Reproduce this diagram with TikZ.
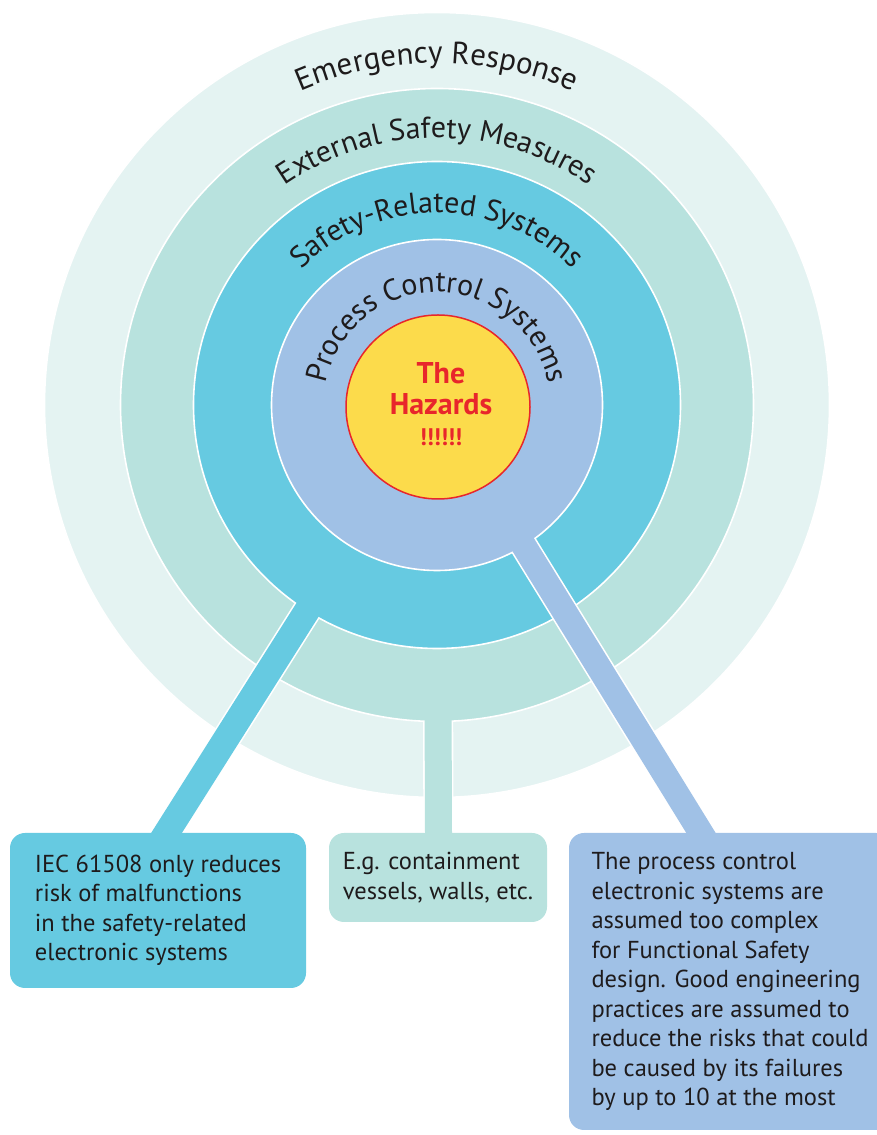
\documentclass[tikz,border=0pt]{standalone}
\usepackage{fontspec}
\setmainfont{PT Sans}
\usetikzlibrary{calc,decorations.text}
\definecolor{ringA}{HTML}{E4F3F2}
\definecolor{ringB}{HTML}{B8E2DE}
\definecolor{ringC}{HTML}{66CAE1}
\definecolor{ringD}{HTML}{A0C1E6}
\definecolor{hazY}{HTML}{FCDB4B}
\definecolor{hazR}{HTML}{E8262B}
\definecolor{textC}{HTML}{1E1B1C}
\newcommand{\ringfont}{\fontsize{30}{32}\selectfont\color{textC}}
\newcommand{\ringfontbig}{\fontsize{31}{33}\selectfont\color{textC}}
\newcommand{\boxfont}{\fontsize{24.5}{29.5}\selectfont}
\pgfdeclarelayer{fg}
\pgfsetlayers{main,fg}
\begin{document}
\begin{tikzpicture}[x=1pt,y=1pt,
  ringnode/.style={circle, inner sep=0pt, outer sep=0pt, draw=white, line width=1.6pt},
  boxnode/.style={rectangle, rounded corners=15pt, inner sep=0pt, outer sep=0pt, align=left, font=\boxfont, text=textC, anchor=north west},
  barline/.style={line cap=butt},
  ringlabel/.style={decorate, decoration={text along path, text align=center, text={#1}}}
]
\useasboundingbox (0,0) rectangle (877,1135);
\coordinate (C) at (437,730);

% boxes (foreground)
\begin{pgfonlayer}{fg}
\node[boxnode, fill=ringC, minimum width=296pt, minimum height=155pt] (b1) at (10,302)
  {IEC 61508 only reduces\\risk of malfunctions\\in the safety-related\\electronic systems};
\node[boxnode, fill=ringB, minimum width=218pt, minimum height=89pt] (b2) at (329,302)
  {E.g. containment\\vessels, walls, etc.};
\node[boxnode, fill=ringD, minimum width=322pt, minimum height=297pt] (b3) at (569,302)
  {The process control\\electronic systems are\\assumed too complex\\for Functional Safety\\design. Good engineering\\practices are assumed to\\reduce the risks that could\\be caused by its failures\\by up to 10 at the most};
\end{pgfonlayer}

\coordinate (t1) at ($(b1.north west)+(156.5,0)$);
\coordinate (t2) at ($(b2.north west)+(109.5,0)$);
\coordinate (t3) at ($(b3.north west)+(132,0)$);

% ring 1
\node[ringnode, fill=ringA, minimum size=785pt] (r1) at (C) {};
% ring 2 with middle bar
\draw[barline, white, line width=30.2pt] ($(C)!300pt!(t2)$) -- ($(t2)!-10pt!(C)$);
\node[ringnode, fill=ringB, minimum size=633pt] (r2) at (C) {};
\draw[barline, ringB, line width=27pt] ($(C)!290pt!(t2)$) -- ($(t2)!-10pt!(C)$);
% ring 3 with cyan bar
\draw[barline, white, line width=29.2pt] ($(C)!230pt!(t1)$) -- ($(t1)!-10pt!(C)$);
\node[ringnode, fill=ringC, minimum size=487pt] (r3) at (C) {};
\draw[barline, ringC, line width=26pt] ($(C)!215pt!(t1)$) -- ($(t1)!-10pt!(C)$);
% ring 4 with blue bar
\draw[barline, white, line width=28.2pt] ($(C)!150pt!(t3)$) -- ($(t3)!-10pt!(C)$);
\node[ringnode, fill=ringD, minimum size=331pt] (r4) at (C) {};
\draw[barline, ringD, line width=25pt] ($(C)!130pt!(t3)$) -- ($(t3)!-10pt!(C)$);
% hazards
\node[circle, inner sep=0pt, minimum size=184pt, fill=hazY, draw=hazR, line width=1.5pt] (hz) at (438,728) {};
\node[align=center, text=hazR, font=\bfseries\fontsize{30}{31}\selectfont, inner sep=0pt] (hzt) at (441,731)
  {The\\Hazards\\{\fontsize{24}{31}\selectfont !!!!!!}};

% ring labels
\path[ringlabel={|\ringfontbig|Emergency Response}] ($(C)+(160:342)$) arc[start angle=160, end angle=20, radius=342];
\path[ringlabel={|\ringfont|External Safety Measures}] ($(C)+(165:267)$) arc[start angle=165, end angle=15, radius=267];
\path[ringlabel={|\ringfont|Safety-Related Systems}] ($(C)+(170:192)$) arc[start angle=170, end angle=10, radius=192];
\path[ringlabel={|\ringfont|Process Control Systems}] ($(C)+(179:113)$) arc[start angle=179, end angle=1, radius=113];
\end{tikzpicture}
\end{document}
